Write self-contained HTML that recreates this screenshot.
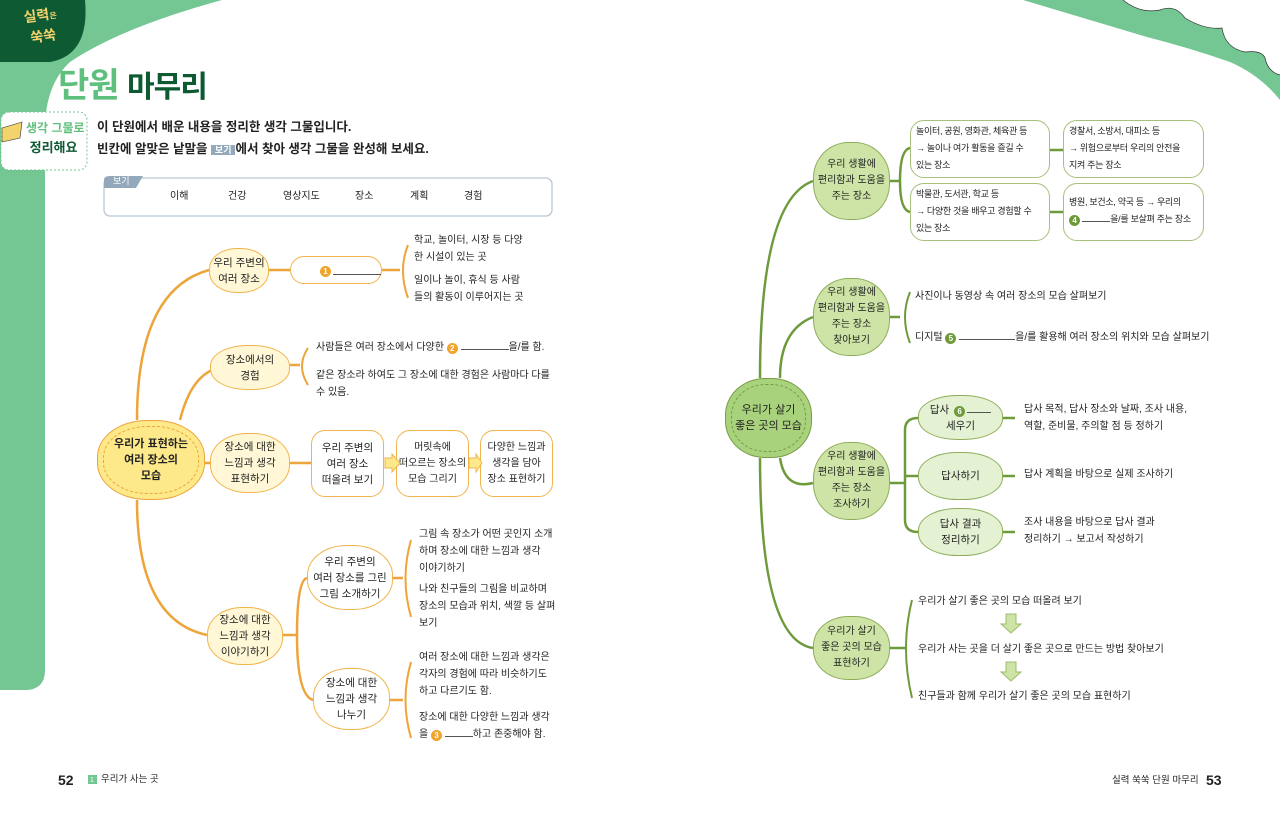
<!DOCTYPE html>
<html><head><meta charset="utf-8">
<style>
*{margin:0;padding:0;box-sizing:border-box}
body{width:1280px;height:814px;position:relative;background:#fff;font-family:"Liberation Sans","Noto Sans CJK KR",sans-serif;color:#222;overflow:hidden}
.a{position:absolute}
.n{position:absolute;display:flex;align-items:center;justify-content:center;text-align:center;font-size:10.5px;line-height:16px;border-radius:46%;white-space:nowrap}
.y{background:#fff7d6;border:1.5px solid #f0b44c}
.w{background:#fff;border:1.5px solid #f0b44c;border-radius:14px}
.g{background:#cde4a6;border:1.5px solid #8fae5a}
.lg{background:#e4f1d2;border:1.5px solid #8fae5a}
.gw{background:#fff;border:1.5px solid #a7c07a;border-radius:14px;font-size:9px;line-height:17px;padding:2px 5px;display:block;text-align:left;white-space:nowrap;letter-spacing:-0.3px}
.t{position:absolute;font-size:10px;line-height:17px;white-space:nowrap}
.c{display:inline-block;width:11px;height:11px;border-radius:50%;color:#fff;font-size:8px;line-height:11px;text-align:center;font-weight:bold;vertical-align:-1px}
.co{background:#f0a52a}.cg{background:#6f9a3c}
.bl{display:inline-block;border-bottom:1px solid #555;height:10px}
</style></head><body>
<svg class="a" style="left:0;top:0" width="1280" height="814">
<path d="M0 0 L222 0 Q120 28 70 62 Q45 85 45 130 L45 670 Q45 690 25 690 L0 690 Z" fill="#74c693"/>
<path d="M0 0 L85 0 Q90 55 50 62 L0 62 Z" fill="#0d5a33"/>
<path d="M1023 0 L1123 0 Q1140 14 1160 10 Q1175 4 1185 18 Q1205 30 1222 28 Q1225 48 1245 52 Q1262 50 1265 58 Q1268 72 1280 75 L1280 100 Q1260 75 1230 62 Q1190 48 1147 37 Z" fill="#74c693"/>
<path d="M1123 0 Q1140 14 1160 10 Q1175 4 1185 18 Q1205 30 1222 28 Q1225 48 1245 52 Q1262 50 1265 58 Q1268 72 1280 75" fill="none" stroke="#333" stroke-width="0.7"/>
<g fill="none" stroke="#eda43a" stroke-width="2.5">
<path d="M137 420 Q137 290 209 270"/>
<path d="M180 420 Q190 380 212 370"/>
<path d="M205 463 L212 463"/>
<path d="M137 500 Q137 620 207 635"/>
<path d="M268 270 L290 270"/><path d="M382 270 L400 270"/>
<path d="M290 365 L300 365"/><path d="M290 463 L311 463"/>
<path d="M283 635 L297 635 M297 635 Q297 580 307 578 M297 635 Q297 695 313 700"/>
<path d="M393 578 L403 578"/><path d="M390 700 L403 700"/>
</g>
<g fill="none" stroke="#eda43a" stroke-width="2">
<path d="M408 245 Q398 270 408 298"/>
<path d="M308 348 Q296 366 308 385"/>
<path d="M411 540 Q400 578 411 617"/>
<path d="M411 662 Q400 700 411 738"/>
</g>
<g fill="none" stroke="#6f9a3c" stroke-width="2.5">
<path d="M760 378 Q760 200 813 181"/>
<path d="M780 378 Q780 330 813 317"/>
<path d="M780 458 Q785 490 813 483"/>
<path d="M760 458 Q760 640 813 648"/>
<path d="M890 181 L900 181 M900 181 Q900 150 910 148 M900 181 Q900 210 910 212"/>
<path d="M1050 150 L1063 150"/><path d="M1050 212 L1063 212"/>
<path d="M890 317 L900 317"/>
<path d="M890 483 L905 483 M905 483 L905 430 Q905 418 918 418 M905 476 L918 476 M905 483 L905 520 Q905 532 918 532"/>
<path d="M1003 418 L1015 418 M1003 476 L1015 476 M1003 532 L1015 532"/>
<path d="M890 648 L905 648"/>
</g>
<g fill="none" stroke="#6f9a3c" stroke-width="2">
<path d="M910 292 Q900 317 910 343"/>
<path d="M912 600 Q900 648 912 698"/>
</g>
<g fill="#cde4a6" stroke="#9bbb6c"><path d="M1006 614 h10 v10 h5 l-10 9 l-10 -9 h5z"/><path d="M1006 662 h10 v10 h5 l-10 9 l-10 -9 h5z"/></g>
<rect x="104" y="178" width="448" height="38" rx="6" fill="#fff" stroke="#b9c7d4" stroke-width="1.3"/>
<path d="M104 188 L104 180 Q104 176 110 176 L143 176 L136 188 Z" fill="#93a9bb"/>
<rect x="1" y="112" width="86" height="58" rx="8" fill="#fff" stroke="#74c693" stroke-dasharray="2 2"/>
<path d="M2 128 L22 122 L20 138 L2 142Z" fill="#f3d36b" stroke="#333" stroke-width=".6"/>
<rect x="88" y="775" width="9" height="9" fill="#74c693"/>
</svg>
<div class="a" style="left:25px;top:6px;color:#f3d36b;font-weight:bold;font-size:14px;line-height:18px;transform:rotate(-8deg)">실력<span style="font-size:8px">은</span><br>&nbsp;쑥쑥</div>
<div class="a" style="left:58px;top:58px;font-size:34px;font-weight:bold;letter-spacing:-1px"><span style="color:#5fc07d">단원</span> <span style="color:#0d5a33;font-size:30px">마무리</span></div>
<div class="a" style="left:26px;top:118px;font-size:12px;line-height:20px;font-weight:bold;color:#5fc07d">생각 그물로<br><span style="color:#0d5a33;font-size:13px">&nbsp;정리해요</span></div>
<div class="a" style="left:97px;top:116px;font-size:12.5px;line-height:22px;font-weight:bold;color:#222">이 단원에서 배운 내용을 정리한 생각 그물입니다.<br>빈칸에 알맞은 낱말을 <span style="background:#93a9bb;color:#fff;font-size:9px;padding:0 4px">보기</span>에서 찾아 생각 그물을 완성해 보세요.</div>
<div class="t" style="left:113px;top:174px;color:#fff;font-size:9px;line-height:14px">보기</div>
<div class="t" style="left:170px;top:188px">이해</div><div class="t" style="left:228px;top:188px">건강</div><div class="t" style="left:283px;top:188px">영상지도</div><div class="t" style="left:355px;top:188px">장소</div><div class="t" style="left:410px;top:188px">계획</div><div class="t" style="left:464px;top:188px">경험</div>

<div class="n" style="left:97px;top:420px;width:108px;height:80px;background:#fde98a;border:1.5px solid #eda43a;font-weight:bold;font-size:11px"><div style="position:absolute;inset:5px;border:1px dashed #eda43a;border-radius:46%"></div>우리가 표현하는<br>여러 장소의<br>모습</div>
<div class="n y" style="left:209px;top:248px;width:60px;height:45px">우리 주변의<br>여러 장소</div>
<div class="n w" style="left:290px;top:256px;width:92px;height:28px;justify-content:flex-start;padding-left:28px"><span class="c co" style="position:absolute;left:29px;top:9px">1</span><span class="bl" style="width:60px;margin-left:14px"></span></div>
<div class="t" style="left:414px;top:232px">학교, 놀이터, 시장 등 다양<br>한 시설이 있는 곳</div>
<div class="t" style="left:414px;top:272px">일이나 놀이, 휴식 등 사람<br>들의 활동이 이루어지는 곳</div>
<div class="n y" style="left:210px;top:345px;width:80px;height:45px">장소에서의<br>경험</div>
<div class="t" style="left:316px;top:339px">사람들은 여러 장소에서 다양한 <span class="c co">2</span> <span class="bl" style="width:48px"></span>을/를 함.</div>
<div class="t" style="left:316px;top:367px">같은 장소라 하여도 그 장소에 대한 경험은 사람마다 다를<br>수 있음.</div>
<div class="n y" style="left:210px;top:433px;width:80px;height:60px">장소에 대한<br>느낌과 생각<br>표현하기</div>
<div class="n w" style="left:311px;top:430px;width:73px;height:67px">우리 주변의<br>여러 장소<br>떠올려 보기</div>
<div class="n w" style="left:396px;top:430px;width:73px;height:67px;font-size:10px">머릿속에<br>떠오르는 장소의<br>모습 그리기</div>
<div class="n w" style="left:480px;top:430px;width:73px;height:67px;font-size:10px">다양한 느낌과<br>생각을 담아<br>장소 표현하기</div>
<svg class="a" style="left:383px;top:452px" width="100" height="22"><g fill="#fde98a" stroke="#f0b44c"><path d="M2 6 h7 v-4 l8 9 l-8 9 v-4 h-7z"/><path d="M86 6 h7 v-4 l6 9 l-6 9 v-4 h-7z"/></g></svg>
<div class="n y" style="left:207px;top:607px;width:76px;height:58px">장소에 대한<br>느낌과 생각<br>이야기하기</div>
<div class="n y" style="left:307px;top:545px;width:86px;height:65px;background:#fff">우리 주변의<br>여러 장소를 그린<br>그림 소개하기</div>
<div class="n y" style="left:313px;top:668px;width:77px;height:62px;background:#fff">장소에 대한<br>느낌과 생각<br>나누기</div>
<div class="t" style="left:419px;top:526px">그림 속 장소가 어떤 곳인지 소개<br>하며 장소에 대한 느낌과 생각<br>이야기하기</div>
<div class="t" style="left:419px;top:581px">나와 친구들의 그림을 비교하며<br>장소의 모습과 위치, 색깔 등 살펴<br>보기</div>
<div class="t" style="left:419px;top:649px">여러 장소에 대한 느낌과 생각은<br>각자의 경험에 따라 비슷하기도<br>하고 다르기도 함.</div>
<div class="t" style="left:419px;top:709px">장소에 대한 다양한 느낌과 생각<br>을 <span class="c co">3</span> <span class="bl" style="width:28px"></span>하고 존중해야 함.</div>

<div class="n" style="left:725px;top:378px;width:87px;height:80px;background:#a9d27c;border:1.5px solid #7a9b45;font-size:11px"><div style="position:absolute;inset:5px;border:1px dashed #7a9b45;border-radius:46%"></div>우리가 살기<br>좋은 곳의 모습</div>
<div class="n g" style="left:813px;top:142px;width:77px;height:78px;font-size:10px">우리 생활에<br>편리함과 도움을<br>주는 장소</div>
<div class="a gw" style="left:910px;top:120px;width:140px;height:58px">놀이터, 공원, 영화관, 체육관 등<br>→ 놀이나 여가 활동을 즐길 수<br>있는 장소</div>
<div class="a gw" style="left:1063px;top:120px;width:141px;height:58px">경찰서, 소방서, 대피소 등<br>→ 위험으로부터 우리의 안전을<br>지켜 주는 장소</div>
<div class="a gw" style="left:910px;top:183px;width:140px;height:58px">박물관, 도서관, 학교 등<br>→ 다양한 것을 배우고 경험할 수<br>있는 장소</div>
<div class="a gw" style="left:1063px;top:183px;width:141px;height:58px;padding-top:10px">병원, 보건소, 약국 등 → 우리의<br><span class="c cg">4</span> <span class="bl" style="width:28px"></span>을/를 보살펴 주는 장소</div>
<div class="n g" style="left:813px;top:278px;width:77px;height:78px;font-size:10px">우리 생활에<br>편리함과 도움을<br>주는 장소<br>찾아보기</div>
<div class="t" style="left:915px;top:288px">사진이나 동영상 속 여러 장소의 모습 살펴보기</div>
<div class="t" style="left:915px;top:329px">디지털 <span class="c cg">5</span> <span class="bl" style="width:56px"></span>을/를 활용해 여러 장소의 위치와 모습 살펴보기</div>
<div class="n g" style="left:813px;top:442px;width:77px;height:78px;font-size:10px">우리 생활에<br>편리함과 도움을<br>주는 장소<br>조사하기</div>
<div class="n lg" style="left:918px;top:395px;width:85px;height:45px"><div>답사 <span class="c cg" style="margin:0 2px">6</span><span class="bl" style="width:24px"></span><br>세우기</div></div>
<div class="n lg" style="left:918px;top:452px;width:85px;height:48px">답사하기</div>
<div class="n lg" style="left:918px;top:508px;width:85px;height:48px">답사 결과<br>정리하기</div>
<div class="t" style="left:1024px;top:401px">답사 목적, 답사 장소와 날짜, 조사 내용,<br>역할, 준비물, 주의할 점 등 정하기</div>
<div class="t" style="left:1024px;top:466px">답사 계획을 바탕으로 실제 조사하기</div>
<div class="t" style="left:1024px;top:514px">조사 내용을 바탕으로 답사 결과<br>정리하기 → 보고서 작성하기</div>
<div class="n g" style="left:813px;top:616px;width:77px;height:64px;font-size:10px">우리가 살기<br>좋은 곳의 모습<br>표현하기</div>
<div class="t" style="left:918px;top:593px">우리가 살기 좋은 곳의 모습 떠올려 보기</div>
<div class="t" style="left:918px;top:641px">우리가 사는 곳을 더 살기 좋은 곳으로 만드는 방법 찾아보기</div>
<div class="t" style="left:918px;top:688px">친구들과 함께 우리가 살기 좋은 곳의 모습 표현하기</div>

<div class="a" style="left:58px;top:772px;font-size:14px;font-weight:bold">52</div>
<div class="t" style="left:90px;top:772px;font-size:7px;color:#fff">1</div>
<div class="t" style="left:101px;top:771px;font-size:9.5px">우리가 사는 곳</div>
<div class="t" style="left:1112px;top:772px;font-size:9.5px">실력 쑥쑥 단원 마무리</div>
<div class="a" style="left:1206px;top:772px;font-size:14px;font-weight:bold">53</div>
</body></html>
